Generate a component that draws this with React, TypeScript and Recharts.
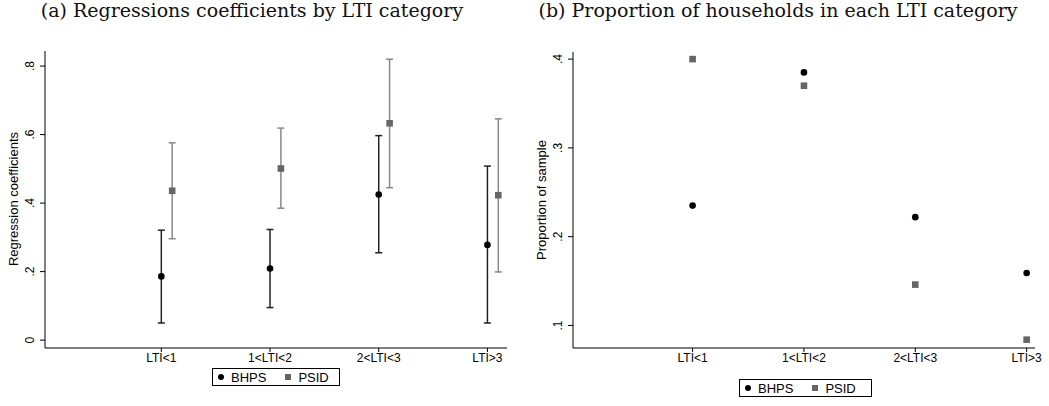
import React from "react";
import { ScatterChart, Scatter, XAxis, YAxis, ErrorBar } from "recharts";

const categories = ["LTI<1", "1<LTI<2", "2<LTI<3", "LTI>3"];

// (a) regression coefficients and their confidence bands
const bhpsCoef = [0.186, 0.209, 0.425, 0.278];
const bhpsLow = [0.05, 0.095, 0.255, 0.05];
const bhpsHigh = [0.321, 0.323, 0.597, 0.508];
const psidCoef = [0.436, 0.501, 0.633, 0.423];
const psidLow = [0.296, 0.385, 0.445, 0.199];
const psidHigh = [0.576, 0.619, 0.82, 0.646];

// (b) share of households per category
const bhpsShare = [0.235, 0.385, 0.222, 0.159];
const psidShare = [0.4, 0.37, 0.146, 0.084];

const coefTicks = [0, 0.2, 0.4, 0.6, 0.8];
const shareTicks = [0.1, 0.2, 0.3, 0.4];
const catTicks = [1, 2, 3, 4];

// PSID is drawn slightly to the right of BHPS in panel (a)
const psidShift = 0.1;

const sans = "'Liberation Sans', Arial, Helvetica, sans-serif";
const serif = "'DejaVu Serif', serif";

const coefData = (coef: number[], low: number[], high: number[], shift: number) =>
  coef.map((v, i) => ({ x: i + 1 + shift, y: v, err: [v - low[i], high[i] - v] }));

const shareData = (vals: number[]) => vals.map((v, i) => ({ x: i + 1, y: v }));

const fmt = (v: number) => (v === 0 ? "0" : String(v).replace(/^0/, ""));

const RotTick = (props: any) => {
  const { x, y, payload } = props;
  return (
    <text
      x={x}
      y={y}
      transform={`rotate(-90, ${x}, ${y})`}
      textAnchor="middle"
      fontSize={12}
      fontFamily={sans}
      fill="#000"
    >
      {fmt(payload.value)}
    </text>
  );
};

const Dot = (props: any) => <circle cx={props.cx} cy={props.cy} r={3.3} fill="#000" />;
const Square = (props: any) => (
  <rect x={props.cx - 3.3} y={props.cy - 3.3} width={6.6} height={6.6} fill="#666" />
);

function Legend({ left, top, width }: { left: number; top: number; width: number }) {
  return (
    <div
      style={{
        position: "absolute",
        left,
        top,
        width,
        height: 18,
        border: "1px solid #000",
        boxSizing: "border-box",
        display: "flex",
        alignItems: "center",
        fontFamily: sans,
        fontSize: 13,
        color: "#000",
        paddingLeft: 5,
      }}
    >
      <span style={{ width: 6, height: 6, borderRadius: 3, background: "#000", marginRight: 7 }} />
      <span>BHPS</span>
      <span style={{ width: 6, height: 6, background: "#666", marginLeft: 19, marginRight: 7 }} />
      <span>PSID</span>
    </div>
  );
}

function Title({ text, cx }: { text: string; cx: number }) {
  return (
    <div
      style={{
        position: "absolute",
        left: cx - 300,
        top: 0,
        width: 600,
        textAlign: "center",
        fontFamily: serif,
        fontSize: 19,
        lineHeight: "20px",
        color: "#111",
      }}
    >
      {text}
    </div>
  );
}

function AxisTitle({ text, cx, cy }: { text: string; cx: number; cy: number }) {
  return (
    <div
      style={{
        position: "absolute",
        left: cx - 100,
        top: cy - 8,
        width: 200,
        height: 16,
        lineHeight: "16px",
        textAlign: "center",
        fontFamily: sans,
        fontSize: 13,
        color: "#000",
        transform: "rotate(-90deg)",
      }}
    >
      {text}
    </div>
  );
}

export default function App() {
  const bhpsA = coefData(bhpsCoef, bhpsLow, bhpsHigh, 0);
  const psidA = coefData(psidCoef, psidLow, psidHigh, psidShift);
  const bhpsB = shareData(bhpsShare);
  const psidB = shareData(psidShare);

  const xAxisProps = {
    type: "number" as const,
    dataKey: "x",
    ticks: catTicks,
    tickFormatter: (v: number) => categories[v - 1],
    tick: { fill: "#000", fontSize: 12, fontFamily: sans },
    stroke: "#000",
    tickSize: 4,
    tickMargin: 1,
    height: 20,
    allowDataOverflow: true,
  };

  return (
    <div
      style={{
        position: "absolute",
        left: 0,
        top: 0,
        width: 1049,
        height: 406,
        background: "#fff",
        overflow: "hidden",
      }}
    >
      <Title text="(a) Regressions coefficients by LTI category" cx={252} />
      <Title text="(b) Proportion of households in each LTI category" cx={778} />

      <div style={{ position: "absolute", left: 0, top: 0 }}>
        <ScatterChart width={520} height={406} margin={{ top: 51, right: 13, bottom: 38, left: 0 }}>
          <XAxis {...xAxisProps} domain={[-0.07, 4.18]} />
          <YAxis
            type="number"
            dataKey="y"
            domain={[-0.023, 0.844]}
            ticks={coefTicks}
            width={45}
            stroke="#000"
            tickSize={5}
            tickMargin={6}
            tick={<RotTick />}
            allowDataOverflow
          />
          <Scatter data={bhpsA} shape={<Dot />} isAnimationActive={false}>
            <ErrorBar dataKey="err" direction="y" width={3.5} stroke="#222" strokeWidth={1.5} />
          </Scatter>
          <Scatter data={psidA} shape={<Square />} isAnimationActive={false}>
            <ErrorBar dataKey="err" direction="y" width={3.5} stroke="#888" strokeWidth={1.5} />
          </Scatter>
        </ScatterChart>
      </div>

      <div style={{ position: "absolute", left: 520, top: 0 }}>
        <ScatterChart width={529} height={406} margin={{ top: 52, right: 14, bottom: 38, left: 0 }}>
          <XAxis {...xAxisProps} domain={[-0.074, 4.075]} />
          <YAxis
            type="number"
            dataKey="y"
            domain={[0.0746, 0.408]}
            ticks={shareTicks}
            width={53}
            stroke="#000"
            tickSize={5}
            tickMargin={6}
            tick={<RotTick />}
            allowDataOverflow
          />
          <Scatter data={bhpsB} shape={<Dot />} isAnimationActive={false} />
          <Scatter data={psidB} shape={<Square />} isAnimationActive={false} />
        </ScatterChart>
      </div>

      <AxisTitle text="Regression coefficients" cx={14} cy={199} />
      <AxisTitle text="Proportion of sample" cx={542} cy={200} />

      <Legend left={212} top={368} width={128} />
      <Legend left={739} top={379} width={133} />
    </div>
  );
}
